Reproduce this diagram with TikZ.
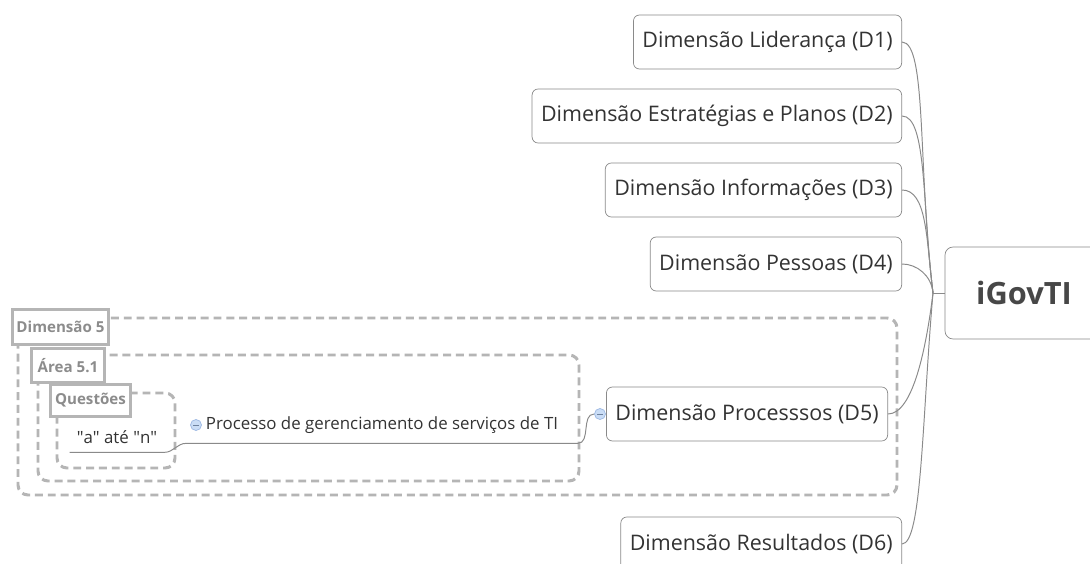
\documentclass[tikz,border=0pt]{standalone}
\usepackage{fontspec}
\setmainfont{Open Sans}
\usetikzlibrary{positioning}
\definecolor{mmline}{HTML}{8A8A8A}
\definecolor{mmtext}{HTML}{333333}
\definecolor{mmdash}{HTML}{B5B5B5}
\definecolor{mmlabel}{HTML}{8C8C8C}
\definecolor{mmfold}{HTML}{CADDF6}
\definecolor{mmfoldb}{HTML}{9DB9E3}

\tikzset{
  topic/.style={draw=mmline, fill=white, rounded corners=0.12cm, text=mmtext,
    font=\fontsize{12.2}{14}\selectfont, minimum height=1.08cm, inner xsep=0.18cm, anchor=east},
  central/.style={draw=mmline, fill=white, rounded corners=0.16cm, text=mmtext!90,
    font=\bfseries\fontsize{17.5}{20}\selectfont, minimum width=3.16cm, minimum height=1.84cm},
  subtopic/.style={text=mmtext, font=\fontsize{9.6}{11}\selectfont, inner sep=0pt},
  bound/.style={draw=mmdash, line width=1.7pt, dash pattern=on 4.5pt off 2.8pt, rounded corners=0.2cm},
  blabel/.style={draw=mmdash, line width=1.7pt, fill=white, text=mmlabel, anchor=north west,
    font=\bfseries\fontsize{8.6}{10}\selectfont, inner sep=0pt},
  link/.style={draw=mmline, line width=0.55pt},
  fold/.style={circle, fill=mmfold, draw=mmfoldb, line width=0.4pt, minimum size=0.22cm, inner sep=0pt,
    path picture={\draw[mmfoldb!70!black, line width=0.5pt]
      ([xshift=-1.6pt]path picture bounding box.center) -- ([xshift=1.6pt]path picture bounding box.center);}}
}

\begin{document}
\begin{tikzpicture}[x=0.02cm, y=-0.02cm]

  % ---- Page ------------------------------------------------------
  \useasboundingbox (0,0) rectangle (1090,564);
  \clip (0,0) rectangle (1090,564);
  \fill[white] (0,0) rectangle (1090,564);

  % ============================================================
  %  Boundaries (dashed) and their labels
  % ============================================================
  \draw[bound] (18,318) rectangle (897,495);
  \draw[bound] (38,355) rectangle (579,481);
  \draw[bound] (57,393) rectangle (175,468);
  \node[blabel, minimum width=1.92cm, minimum height=0.70cm] (lbdim) at (11,308) {Dimensão 5};
  \node[blabel, minimum width=1.46cm, minimum height=0.68cm] (lbarea) at (30,347) {Área 5.1};
  \node[blabel, minimum width=1.60cm, minimum height=0.64cm] (lbquest) at (49,383) {Questões};

  % ============================================================
  %  Topics
  % ============================================================
  \node[central] (igov) at (1024,293) {iGovTI};
  \coordinate (hub) at (933,293);

  \node[topic] (d1) at (902,42)  {Dimensão Liderança (D1)};
  \node[topic] (d2) at (902,116) {Dimensão Estratégias e Planos (D2)};
  \node[topic] (d3) at (902,190) {Dimensão Informações (D3)};
  \node[topic] (d4) at (902,264) {Dimensão Pessoas (D4)};
  \node[topic] (d5) at (888,414) {Dimensão Processsos (D5)};
  \node[topic] (d6) at (902,544) {Dimensão Resultados (D6)};

  % Sub topics under D5
  \node[subtopic, minimum width=7.82cm, minimum height=0.72cm] (proc) at (382,425)
    {Processo de gerenciamento de serviços de TI};
  \node[subtopic, minimum width=1.88cm, minimum height=0.60cm] (aten) at (117,437)
    {\textquotedbl a\textquotedbl{} até \textquotedbl n\textquotedbl};

  % Collapse buttons
  \node[fold] (pfold) at (196,425) {};
  \node[fold] (dfold) at (600,414) {};

  % ============================================================
  %  Connectors
  % ============================================================
  \foreach \n/\d in {d1/2.5cm, d2/1.8cm, d3/1.1cm}{
    \draw[link] (\n.east) to[out=0,in=97,out distance=0.5cm,in distance=\d] (hub);
  }
  \draw[link] (d4.east) to[out=0,in=95,out distance=0.3cm,in distance=0.35cm] (hub);
  \draw[link] (d5.east) to[out=0,in=-97,out distance=0.5cm,in distance=1.1cm] (hub);
  \draw[link] (d6.east) to[out=0,in=-95,out distance=0.4cm,in distance=2.5cm] (hub);
  \draw[link] (hub) -- (igov.west);

  % Underlines of the sub topics
  \draw[link] (aten.south west) -- (aten.south east)
    to[out=0,in=180] (proc.south west) -- (proc.south east)
    to[out=0,in=180] (dfold.west);

\end{tikzpicture}
\end{document}
